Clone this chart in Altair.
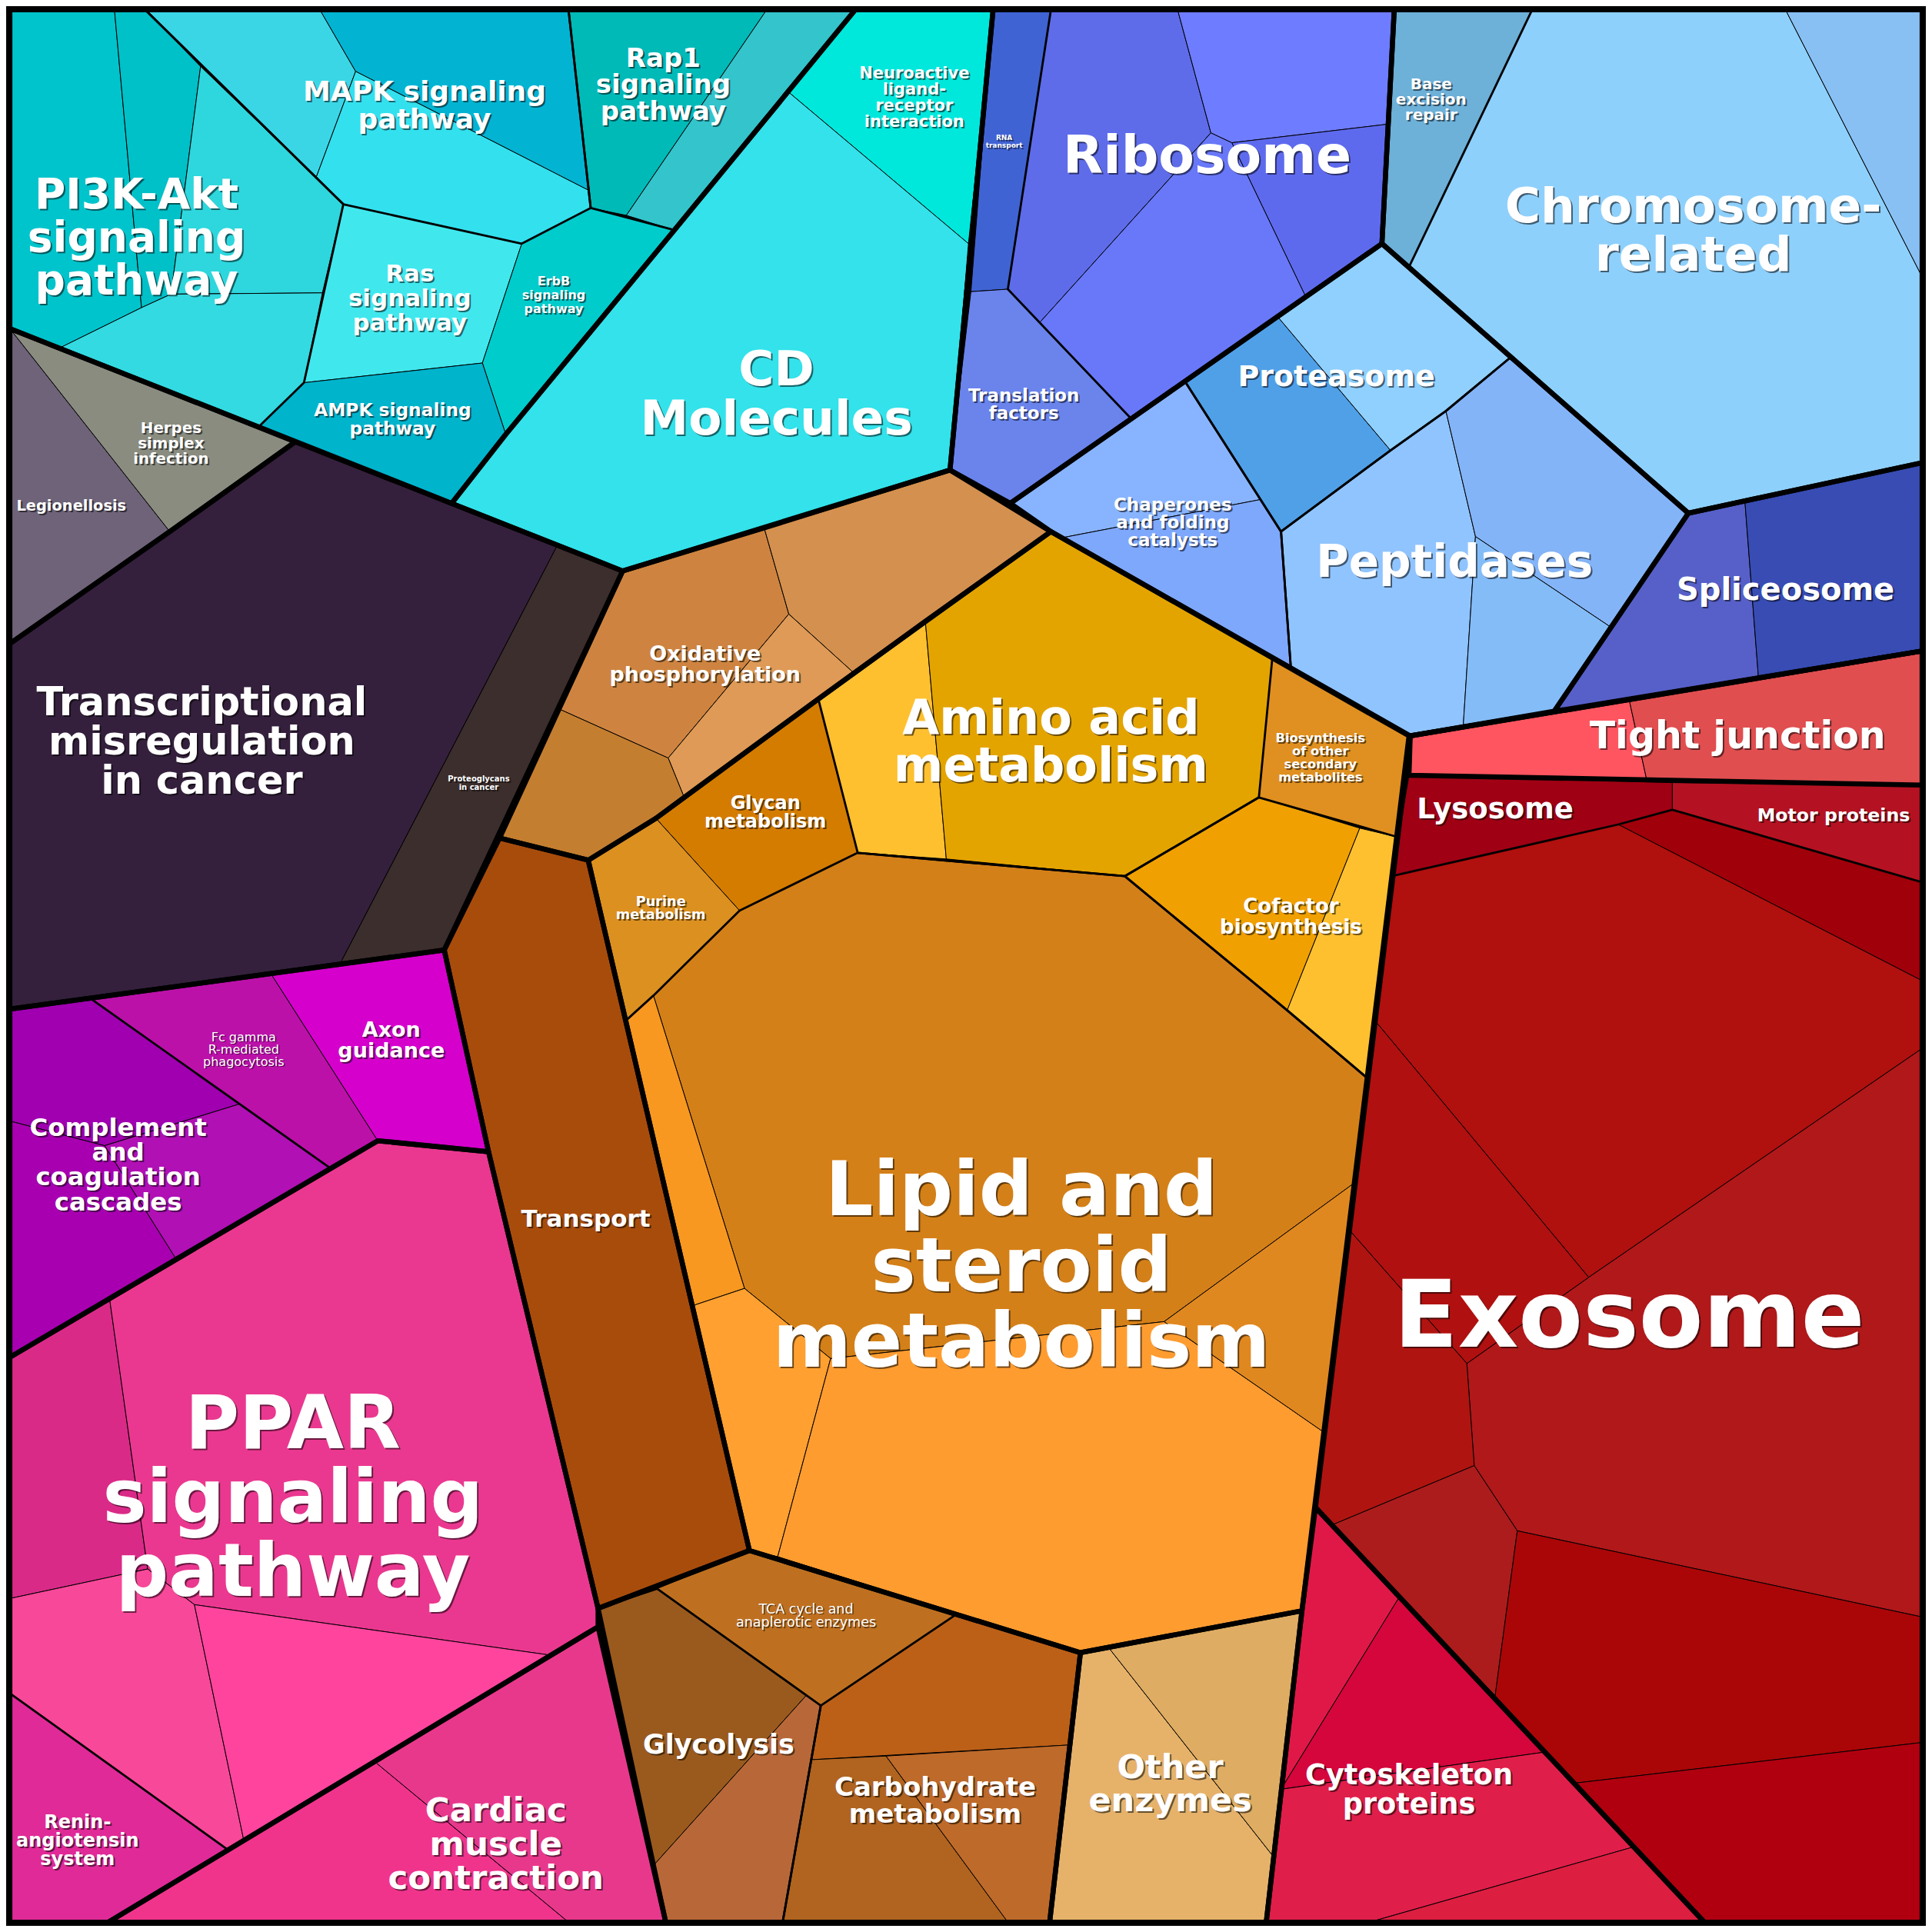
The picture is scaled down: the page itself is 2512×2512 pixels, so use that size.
import altair as alt
import pandas as pd

# ---------------- data: cells (label-level), their sub-leaves and colours ----------------
# coordinates are in the picture's own units (frame 7..1561)
LEAVES = [
    # signaling group
    ("PI3K", "#00C4CC", [(7,7),(92,7),(114,249),(47,282),(7,266)]),
    ("PI3K", "#00C0C8", [(92,7),(117,7),(162,53),(138,238),(114,249)]),
    ("PI3K", "#2DD7DD", [(162,53),(278,165),(261,237),(138,238)]),
    ("PI3K", "#33DAE1", [(138,238),(261,237),(246,310),(209,346),(47,282),(114,249)]),
    ("MAPK", "#3AD6E6", [(117,7),(259,7),(288,57),(256,143)]),
    ("MAPK", "#02B4D2", [(259,7),(461,7),(478,154),(390,109),(288,57)]),
    ("MAPK", "#33E0EE", [(288,57),(390,109),(478,154),(479,168),(423,197),(278,165),(256,143)]),
    ("Rap1", "#00BAB8", [(461,7),(622,7),(508,174),(479,168)]),
    ("Rap1", "#33C4CC", [(622,7),(694,7),(547,186),(508,174)]),
    ("Ras", "#40E8EE", [(278,165),(423,197),(391,294),(246,310)]),
    ("ErbB", "#00CCCC", [(423,197),(479,168),(547,186),(410,352),(391,294)]),
    ("AMPK", "#00B4CC", [(246,310),(391,294),(410,352),(366,408),(209,346)]),
    ("Neuro", "#00E8DC", [(694,7),(806,7),(786,197),(640,74)]),
    ("CD", "#33E2EA", [(640,74),(786,197),(771,381),(505,463),(366,408),(410,352),(547,186)]),
    # infection / cancer
    ("Legion", "#6E6378", [(7,266),(137,431),(7,522)]),
    ("Herpes", "#8A8C80", [(7,266),(239,358),(137,431)]),
    ("Transcr", "#34203C", [(7,522),(137,431),(239,358),(452,442),(276,781),(7,819)]),
    ("Proteo", "#3C2E2C", [(452,442),(505,463),(360,771),(276,781)]),
    # immune
    ("Compl", "#A000B0", [(7,819),(72,810),(194,896),(84,930),(7,910)]),
    ("Compl", "#B010B4", [(84,930),(194,896),(267,948),(142,1022)]),
    ("Compl", "#A800B0", [(7,910),(84,930),(142,1022),(100,1047),(7,1102)]),
    ("Fc", "#BB11A9", [(72,810),(219,790),(306,926),(267,948)]),
    ("Axon", "#D600CC", [(219,790),(360,771),(396,935),(306,926)]),
    # PPAR / renin / cardiac
    ("PPAR", "#DA2A88", [(7,1102),(88,1054),(119,1274),(7,1298)]),
    ("PPAR", "#EA3890", [(88,1054),(306,926),(396,935),(485,1306),(485,1321),(446,1344),(157,1303),(119,1274)]),
    ("PPAR", "#F8489A", [(7,1298),(119,1274),(157,1303),(197,1494),(184,1502),(7,1375)]),
    ("PPAR", "#FF449E", [(157,1303),(446,1344),(197,1494)]),
    ("Renin", "#E02A98", [(7,1375),(184,1502),(87,1561),(7,1561)]),
    ("Cardiac", "#F0348C", [(304,1431),(461,1561),(87,1561)]),
    ("Cardiac", "#E8388C", [(485,1321),(540,1561),(461,1561),(304,1431)]),
    # metabolism
    ("Transport", "#A84C0C", [(360,771),(405,680),(477,698),(608,1259),(485,1306),(396,935)]),
    ("Oxid", "#CE8440", [(505,463),(620,428),(640,498),(542,615),(453,575)]),
    ("Oxid", "#D4904E", [(620,428),(771,381),(853,431),(751,504),(693,546),(640,498)]),
    ("Oxid", "#DE9A56", [(640,498),(693,546),(555,647),(542,615)]),
    ("Oxid", "#C47E30", [(453,575),(542,615),(555,647),(532,664),(477,698),(405,680)]),
    ("Amino", "#FFC030", [(664,567),(751,504),(768,697),(696,692)]),
    ("Amino", "#E4A400", [(751,504),(853,431),(1033,533),(1022,647),(913,711),(768,697)]),
    ("Biosyn", "#E09020", [(1033,533),(1144,597),(1134,679),(1022,647)]),
    ("Cofac", "#F0A000", [(1022,647),(1104,672),(1045,820),(913,711)]),
    ("Cofac", "#FFC030", [(1104,672),(1134,679),(1110,875),(1045,820)]),
    ("Glycan", "#D47C00", [(664,567),(696,692),(600,739),(532,664)]),
    ("Purine", "#DC9020", [(477,698),(532,664),(600,739),(530,808),(508,828)]),
    ("Lipid", "#D48018", [(530,808),(600,739),(696,692),(913,711),(1045,820),(1110,875),(1100,960),(945,1073),(674,1103),(604,1046)]),
    ("Lipid", "#F89820", [(508,828),(530,808),(604,1046),(562,1060)]),
    ("Lipid", "#FFA030", [(562,1060),(604,1046),(674,1103),(631,1264),(608,1259)]),
    ("Lipid", "#FF9C30", [(674,1103),(945,1073),(1075,1163),(1057,1308),(877,1342),(631,1264)]),
    ("Lipid", "#E08820", [(1100,960),(1075,1163),(945,1073)]),
    ("TCA", "#BE7020", [(533,1290),(608,1259),(776,1311),(666,1385)]),
    ("Glycol", "#9A5A1E", [(485,1306),(533,1290),(654,1377),(530,1515)]),
    ("Glycol", "#B86838", [(654,1377),(666,1385),(635,1561),(540,1561),(530,1515)]),
    ("Carbo", "#BC6018", [(666,1385),(776,1311),(877,1342),(868,1417),(658,1429)]),
    ("Carbo", "#B06420", [(658,1429),(719,1426),(818,1561),(635,1561)]),
    ("Carbo", "#BE6A2A", [(719,1426),(868,1417),(852,1561),(818,1561)]),
    ("Other", "#E6B26A", [(877,1342),(900,1338),(1034,1508),(1028,1561),(852,1561)]),
    ("Other", "#DEAC62", [(900,1338),(1057,1308),(1034,1508)]),
    # ribosome / chromosome / proteasome
    ("RNA", "#4063D4", [(806,7),(853,7),(818,234),(788,236)]),
    ("Transl", "#6A84EC", [(788,236),(818,234),(918,339),(820,408),(771,381)]),
    ("Ribo", "#5E6CEA", [(853,7),(956,7),(983,107),(844,261),(818,234)]),
    ("Ribo", "#6E7CFF", [(956,7),(1132,7),(1126,100),(1000,115),(983,107)]),
    ("Ribo", "#5E6AEE", [(1000,115),(1126,100),(1122,197),(1060,240)]),
    ("Ribo", "#6878F8", [(983,107),(1000,115),(1060,240),(918,339),(844,261)]),
    ("Base", "#6DB0D8", [(1132,7),(1244,7),(1144,216),(1122,197)]),
    ("Chrom", "#8ED0FC", [(1244,7),(1450,7),(1561,224),(1561,375),(1371,416),(1144,216)]),
    ("Chrom", "#88C0F4", [(1450,7),(1561,7),(1561,224)]),
    ("Protea", "#50A0E8", [(962,309),(1037,256),(1129,365),(1040,431)]),
    ("Protea", "#90D0FF", [(1037,256),(1122,197),(1227,289),(1174,333),(1129,365)]),
    ("Chap", "#88B4FF", [(820,408),(962,309),(1023,405),(862,436),(853,431)]),
    ("Chap", "#7EA8FC", [(862,436),(1023,405),(1040,431),(1048,542)]),
    ("Pept", "#90C4FF", [(1040,431),(1129,365),(1174,333),(1198,435),(1188,590),(1145,597),(1048,542)]),
    ("Pept", "#84B4F8", [(1174,333),(1227,289),(1371,416),(1307,508),(1198,435)]),
    ("Pept", "#84BCF8", [(1198,435),(1307,508),(1262,577),(1188,590)]),
    ("Splice", "#5760C8", [(1371,416),(1417,407),(1428,550),(1262,577)]),
    ("Splice", "#384CB4", [(1417,407),(1561,375),(1561,528),(1428,550)]),
    # red group
    ("Tight", "#FF5560", [(1145,597),(1323,568),(1337,632),(1144,629)]),
    ("Tight", "#E04E50", [(1323,568),(1561,528),(1561,637),(1337,632)]),
    ("Lyso", "#A00014", [(1144,629),(1358,635),(1358,657),(1314,669),(1130,711)]),
    ("Motor", "#B41222", [(1358,635),(1561,637),(1561,716),(1358,657)]),
    ("Exo", "#A0000A", [(1314,669),(1358,657),(1561,716),(1561,796)]),
    ("Exo", "#B0100E", [(1130,711),(1314,669),(1561,796),(1561,851),(1290,1037),(1116,828)]),
    ("Exo", "#B0181A", [(1290,1037),(1561,851),(1561,1313),(1232,1243),(1197,1190),(1191,1107)]),
    ("Exo", "#B01010", [(1116,828),(1290,1037),(1191,1107),(1095,998)]),
    ("Exo", "#B01410", [(1095,998),(1191,1107),(1197,1190),(1082,1238),(1068,1224)]),
    ("Exo", "#AC1C1C", [(1082,1238),(1197,1190),(1232,1243),(1214,1377)]),
    ("Exo", "#AA0608", [(1232,1243),(1561,1313),(1561,1415),(1279,1448),(1214,1377)]),
    ("Exo", "#B00010", [(1279,1448),(1561,1415),(1561,1561),(1384,1561)]),
    ("Cyto", "#E01848", [(1068,1224),(1136,1297),(1040,1453),(1057,1308)]),
    ("Cyto", "#D4063C", [(1136,1297),(1253,1423),(1040,1453)]),
    ("Cyto", "#E01E4A", [(1040,1453),(1253,1423),(1326,1500),(1112,1561),(1028,1561)]),
    ("Cyto", "#DC1E40", [(1326,1500),(1384,1561),(1112,1561)]),
]

# outlines of the labelled cells (medium lines)
CELLS = {
    "PI3K": [(7,7),(117,7),(278,165),(246,310),(209,346),(7,266)],
    "MAPK": [(117,7),(461,7),(479,168),(423,197),(278,165)],
    "Rap1": [(461,7),(694,7),(547,186),(479,168)],
    "Compl": [(7,819),(72,810),(267,948),(100,1047),(7,1102)],
    "PPAR": [(7,1102),(306,926),(396,935),(485,1306),(485,1321),(184,1502),(7,1375)],
    "Cardiac": [(485,1321),(540,1561),(87,1561)],
    "Oxid": [(505,463),(620,428),(771,381),(853,431),(751,504),(664,567),(555,647),(532,664),(477,698),(405,680)],
    "Amino": [(664,567),(751,504),(853,431),(1033,533),(1022,647),(913,711),(696,692)],
    "Cofac": [(1022,647),(1134,679),(1110,875),(1045,820),(913,711)],
    "Lipid": [(530,808),(600,739),(696,692),(913,711),(1045,820),(1110,875),(1057,1308),(877,1342),(608,1259),(508,828)],
    "Glycol": [(485,1306),(533,1290),(666,1385),(635,1561),(540,1561)],
    "Carbo": [(666,1385),(776,1311),(877,1342),(852,1561),(635,1561)],
    "Other": [(877,1342),(1057,1308),(1028,1561),(852,1561)],
    "Ribo": [(853,7),(1132,7),(1122,197),(1060,240),(918,339),(818,234)],
    "Chrom": [(1244,7),(1561,7),(1561,375),(1371,416),(1144,216)],
    "Protea": [(962,309),(1122,197),(1227,289),(1174,333),(1129,365),(1040,431)],
    "Chap": [(820,408),(962,309),(1040,431),(1048,542),(853,431)],
    "Pept": [(1040,431),(1129,365),(1174,333),(1227,289),(1371,416),(1262,577),(1188,590),(1145,597),(1048,542)],
    "Splice": [(1371,416),(1561,375),(1561,528),(1262,577)],
    "Tight": [(1145,597),(1561,528),(1561,637),(1144,629)],
    "Exo": [(1130,711),(1314,669),(1358,657),(1561,716),(1561,1561),(1384,1561),(1068,1224)],
    "Cyto": [(1068,1224),(1384,1561),(1028,1561),(1057,1308)],
}

# top-level groups (thick lines)
GROUPS = [
    [(7,7),(694,7),(547,186),(410,352),(366,408),(7,266)],
    [(694,7),(806,7),(771,381),(505,463),(366,408),(410,352),(547,186)],
    [(7,266),(239,358),(137,431),(7,522)],
    [(7,522),(137,431),(239,358),(505,463),(360,771),(7,819)],
    [(7,819),(360,771),(396,935),(306,926),(7,1102)],
    [(7,1102),(306,926),(396,935),(485,1306),(485,1321),(87,1561),(7,1561)],
    [(485,1321),(540,1561),(87,1561)],
    [(360,771),(405,680),(477,698),(608,1259),(485,1306),(396,935)],
    CELLS["Oxid"],
    [(477,698),(532,664),(555,647),(664,567),(751,504),(853,431),(1144,597),(1057,1308),(877,1342),(608,1259)],
    [(485,1306),(608,1259),(877,1342),(852,1561),(540,1561)],
    CELLS["Other"],
    [(806,7),(1132,7),(1122,197),(820,408),(771,381)],
    [(1132,7),(1561,7),(1561,375),(1371,416),(1122,197)],
    [(820,408),(1122,197),(1371,416),(1262,577),(1145,597),(853,431)],
    CELLS["Splice"],
    CELLS["Tight"],
    [(1145,597),(1561,528),(1561,1561),(1384,1561),(1068,1224)],
    CELLS["Cyto"],
    [(7,7),(1561,7),(1561,1561),(7,1561)],
]

# labels: lines, centre x, centre y, font size, line spacing, weight
LABELS = [
    (["PI3K-Akt", "signaling", "pathway"], 110, 193, 55, 35, "bold"),
    (["MAPK signaling", "pathway"], 344, 85, 36, 22, "bold"),
    (["Rap1", "signaling", "pathway"], 538, 68.5, 34, 21.5, "bold"),
    (["Ras", "signaling", "pathway"], 332, 242, 31, 20, "bold"),
    (["ErbB", "signaling", "pathway"], 449, 239, 16, 11, "bold"),
    (["AMPK signaling", "pathway"], 318, 340.5, 23.3, 15, "bold"),
    (["CD", "Molecules"], 630, 320, 63, 40, "bold"),
    (["Neuroactive", "ligand-", "receptor", "interaction"], 742, 78.5, 21, 13, "bold"),
    (["RNA", "transport"], 815, 114, 9, 6, "bold"),
    (["Ribosome"], 980, 127, 68, 0, "bold"),
    (["Translation", "factors"], 831, 328, 23, 14, "bold"),
    (["Base", "excision", "repair"], 1162, 80.5, 20, 11.5, "bold"),
    (["Chromosome-", "related"], 1375, 187.5, 63, 39, "bold"),
    (["Proteasome"], 1085, 306, 38, 0, "bold"),
    (["Chaperones", "and folding", "catalysts"], 952, 424, 23, 14, "bold"),
    (["Peptidases"], 1181, 457, 58, 0, "bold"),
    (["Spliceosome"], 1450, 479, 40, 0, "bold"),
    (["Tight junction"], 1411, 598, 49, 0, "bold"),
    (["Lysosome"], 1214, 657, 37, 0, "bold"),
    (["Motor proteins"], 1489, 662, 23.7, 0, "bold"),
    (["Exosome"], 1323, 1070, 122, 0, "bold"),
    (["Cytoskeleton", "proteins"], 1144, 1454, 36.7, 24, "bold"),
    (["Other", "enzymes"], 950, 1449, 43, 26, "bold"),
    (["Carbohydrate", "metabolism"], 759, 1463, 34, 22, "bold"),
    (["Glycolysis"], 583, 1417, 35, 0, "bold"),
    (["TCA cycle and", "anaplerotic enzymes"], 654, 1312.5, 17.5, 11, "normal"),
    (["Lipid and", "steroid", "metabolism"], 829, 1030, 98, 61.5, "bold"),
    (["Amino acid", "metabolism"], 853, 603, 62, 38, "bold"),
    (["Biosynthesis", "of other", "secondary", "metabolites"], 1072, 615, 16.3, 10.5, "bold"),
    (["Cofactor", "biosynthesis"], 1048, 744.5, 26, 17, "bold"),
    (["Glycan", "metabolism"], 621, 659.5, 24, 15, "bold"),
    (["Purine", "metabolism"], 536, 737.5, 17.7, 11, "bold"),
    (["Oxidative", "phosphorylation"], 572, 539.5, 27, 17, "bold"),
    (["Transport"], 475, 990, 31, 0, "bold"),
    (["Transcriptional", "misregulation", "in cancer"], 163, 603, 51, 31, "bold"),
    (["Proteoglycans", "in cancer"], 388, 635.5, 10, 7, "bold"),
    (["Herpes", "simplex", "infection"], 138, 359.5, 19.8, 11.8, "bold"),
    (["Legionellosis"], 57, 410, 19.4, 0, "bold"),
    (["Complement", "and", "coagulation", "cascades"], 95, 946, 32.4, 19.7, "bold"),
    (["Fc gamma", "R-mediated", "phagocytosis"], 197, 852, 16, 9.5, "normal"),
    (["Axon", "guidance"], 317, 845, 27, 16, "bold"),
    (["PPAR", "signaling", "pathway"], 237, 1218, 96, 58, "bold"),
    (["Renin-", "angiotensin", "system"], 62, 1495, 24, 14.5, "bold"),
    (["Cardiac", "muscle", "contraction"], 402, 1498.5, 43.5, 27.5, "bold"),
]

FRAME = [(4,4),(1564,4),(1564,1564),(4,1564)]

# ---------------- build GeoJSON-like features ----------------
def feat(poly, **props):
    ring = [[float(x), float(y)] for x, y in poly]
    ring.append(ring[0])
    return {"type": "Feature", "geometry": {"type": "Polygon", "coordinates": [ring]},
            "properties": props}

bg_feats = [feat(FRAME, color="#000000")]
leaf_feats = [feat(p, cell=c, color=col) for c, col, p in LEAVES]
cell_feats = [feat(p, cell=n) for n, p in CELLS.items()]
group_feats = [feat(p, g=i) for i, p in enumerate(GROUPS)]

UNIT = 2496 / 1560.0   # picture units -> pixels (frame spans 1560 units)
rows = []
for lines, cx, cy, size, sp, weight in LABELS:
    n = len(lines)
    sp = max(sp, size / UNIT)
    for i, t in enumerate(lines):
        rows.append({"t": t, "x": cx, "y": cy + (i - (n - 1) / 2) * sp, "s": size, "w": weight})
labels = pd.DataFrame(rows)

W = 2496

def geo(values):
    return alt.Chart(alt.Data(values=values))

bg = geo(bg_feats).mark_geoshape(fill="black", strokeWidth=0).project(type="identity")
leaves = geo(leaf_feats).mark_geoshape(stroke="black", strokeWidth=1).encode(
    fill=alt.Fill("properties.color:N", scale=None)).project(type="identity")
cells = geo(cell_feats).mark_geoshape(filled=False, stroke="black", strokeWidth=2.8,
                                       strokeJoin="round").project(type="identity")
groups = geo(group_feats).mark_geoshape(filled=False, stroke="black", strokeWidth=6.5,
                                         strokeJoin="round").project(type="identity")

def text_layer(weight, color, dx=0, dy=0, opacity=1.0):
    d = labels[labels["w"] == weight]
    return alt.Chart(d).mark_text(
        font="DejaVu Sans", fontWeight=weight, align="center", baseline="middle",
        color=color, dx=dx, dy=dy, opacity=opacity
    ).encode(
        longitude="x:Q", latitude="y:Q", text="t:N",
        size=alt.Size("s:Q", scale=None)
    ).project(type="identity")

chart = alt.layer(
    bg, leaves, cells, groups,
    text_layer("bold", "black", 2, 2, 0.55),
    text_layer("normal", "black", 1.5, 1.5, 0.55),
    text_layer("bold", "white"),
    text_layer("normal", "white"),
).properties(
    width=W, height=W, padding=0
).configure_view(stroke=None).configure(background="white")

chart.save("out.html", embed_options={"renderer": "svg", "actions": False})
